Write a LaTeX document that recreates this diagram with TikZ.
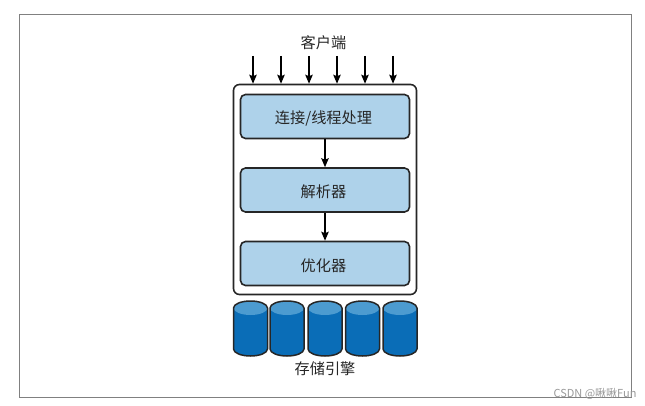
\documentclass[tikz,border=0pt]{standalone}
\usepackage{fontspec}
\setmainfont{Noto Sans CJK SC}
\usetikzlibrary{positioning, arrows.meta}
\definecolor{boxblue}{HTML}{AED2EA}
\definecolor{drumblue}{HTML}{0A6DB7}
\definecolor{drumtop}{HTML}{4C9BD0}
\tikzset{
    stagebox/.style={draw=black!85, line width=1.6pt, rounded corners=5pt, fill=boxblue,
        minimum width=169pt, minimum height=44pt, inner sep=0pt,
        text height=15pt, text depth=0pt,
        font=\fontsize{15.2}{18}\selectfont, text=black!85,
        execute at begin node=\hspace*{-3pt}},
    drumline/.style={draw=black!85, line width=1.5pt, line join=round},
    flowarrow/.style={draw=black, line width=1.2pt, -{Stealth[length=9pt,width=7.5pt,inset=1.5pt]}},
    caption/.style={font=\fontsize{15.2}{18}\selectfont, text=black!85}
}
\begin{document}
\begin{tikzpicture}[x=1pt, y=-1pt]
\useasboundingbox (0,0) rectangle (645,406);
% Outer frame
\node[draw=black!50, line width=1pt, minimum width=612pt, minimum height=382pt, inner sep=0pt] (frame) at (325,206) {};
% Server box
\node[draw=black!85, line width=1.6pt, rounded corners=6pt, fill=white, minimum width=183pt, minimum height=210pt, inner sep=0pt] (serverbox) at (325,189.5) {};
% Stages
\node[stagebox] (connbox) at (325,116.5) {连接/线程处理};
\node[stagebox, below=27.9pt of connbox] (parsebox) {解析器};
\node[stagebox, below=27.9pt of parsebox] (optbox) {优化器};
\draw[flowarrow] (connbox) -- (parsebox);
\draw[flowarrow] (parsebox) -- (optbox);
% Clients
\node[caption] (clients) at (323.5,43) {客户端};
\foreach \i/\x in {1/253,2/281,3/309,4/337,5/365,6/393}{
    \coordinate (in\i) at (\x,56);
    \draw[flowarrow] (in\i) -- (in\i |- serverbox.north);
}
% Storage engines
\foreach \x in {250.5,287,325,362.5,400}{
    \fill[drumblue] ({\x-17},308) -- ({\x-17},349)
        arc[start angle=180, end angle=360, x radius=17pt, y radius=7pt]
        -- ({\x+17},308) -- cycle;
    \fill[drumtop] ({\x-17},308)
        arc[start angle=180, end angle=-180, x radius=17pt, y radius=7pt] -- cycle;
    \draw[drumline] ({\x-17},308)
        arc[start angle=180, end angle=0, x radius=17pt, y radius=7pt]
        -- ({\x+17},349)
        arc[start angle=360, end angle=180, x radius=17pt, y radius=7pt] -- cycle;
}
\node[caption] (engines) at (325,369) {存储引擎};
% Watermark
\node[font=\fontsize{11}{13}\selectfont, text=black!40, anchor=east] (mark) at (640,394) {CSDN @啾啾Fun};
\end{tikzpicture}
\end{document}
